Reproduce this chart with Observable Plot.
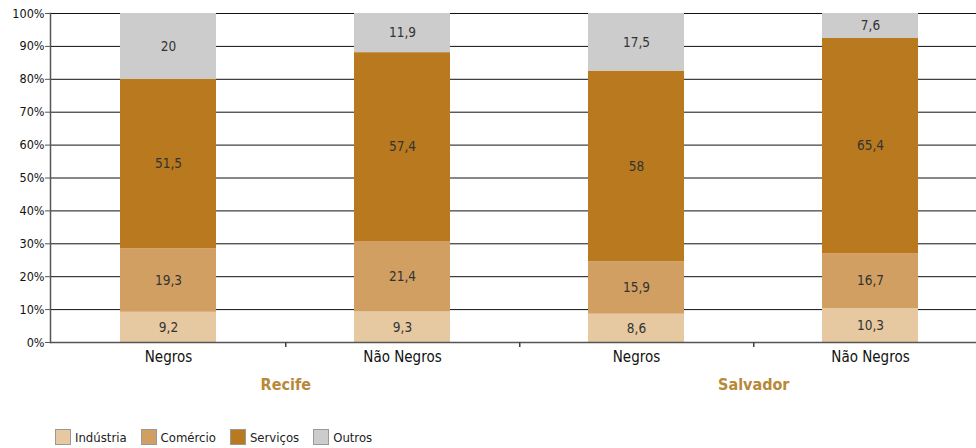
<!DOCTYPE html>
<html>
<head>
<meta charset="utf-8">
<script src="https://cdn.jsdelivr.net/npm/d3@7"></script>
<script src="https://cdn.jsdelivr.net/npm/@observablehq/plot@0.6"></script>
<style>
  body { margin: 0; background: #fff; font-family: "DejaVu Sans Condensed", "Liberation Sans Narrow", sans-serif; }
  #legend { display: flex; align-items: center; padding-left: 55px; padding-top: 9px; font-size: 13px; color: #222; }
  #legend .item { display: flex; align-items: center; margin-right: 14px; }
  #legend .sw { width: 16px; height: 16px; border: 1px solid #999; box-sizing: border-box; margin-right: 4px; }
</style>
</head>
<body>
<div id="chart"></div>
<div id="legend"></div>
<script>
// Ocupados por setor de atividade, segundo raça/cor (%)
const cities = ["Recife", "Recife", "Salvador", "Salvador"];
const groups = ["Negros", "Não Negros", "Negros", "Não Negros"];
const sectors = ["Indústria", "Comércio", "Serviços", "Outros"];
const industria = [9.2, 9.3, 8.6, 10.3];
const comercio = [19.3, 21.4, 15.9, 16.7];
const servicos = [51.5, 57.4, 58, 65.4];
const outros = [20, 11.9, 17.5, 7.6];
const yTicks = [0, 10, 20, 30, 40, 50, 60, 70, 80, 90, 100];
const colors = ["#e6c9a0", "#d29f62", "#b8791f", "#cccccc"];

const series = [industria, comercio, servicos, outros];
const keys = cities.map((c, i) => `${c}|${groups[i]}`);
const rows = [];
keys.forEach((k, i) => {
  sectors.forEach((s, j) => rows.push({key: k, city: cities[i], group: groups[i], sector: s, value: series[j][i]}));
});
const cityFirst = [...new Set(cities)].map(c => ({city: c, key: keys[cities.indexOf(c)]}));

const xOpts = {type: "band", domain: keys, range: [50, 988], paddingInner: 0.59, paddingOuter: 0.295};
const step = Plot.scale({x: xOpts}).step;
const fmt = v => String(v).replace(".", ",");
const font = '"DejaVu Sans Condensed", "Liberation Sans Narrow", sans-serif';

const chart = Plot.plot({
  width: 976,
  height: 420,
  marginTop: 13,
  marginBottom: 78,
  marginLeft: 50,
  marginRight: 0,
  style: {fontFamily: font, background: "#fff"},
  x: {...xOpts, axis: null},
  y: {domain: [0, 100], axis: null},
  color: {domain: sectors, range: colors},
  marks: [
    Plot.gridY(yTicks, {stroke: "#111", strokeOpacity: 1, strokeWidth: 1}),
    Plot.barY(rows, Plot.stackY({x: "key", y: "value", fill: "sector", order: sectors})),
    Plot.text(rows, Plot.stackY({x: "key", y: "value", z: "sector", order: sectors, text: d => fmt(d.value), fill: "#333", fontSize: 13.5})),
    Plot.ruleY([0], {stroke: "#555", strokeWidth: 1.5}),
    Plot.frame({anchor: "left", stroke: "#555", strokeWidth: 1.5}),
    Plot.ruleX(keys.slice(0, 3), {x: d => d, dx: step / 2, y1: 0, y2: -1.5, stroke: "#444", strokeWidth: 1.5, clip: false}),
    Plot.axisY(yTicks, {label: null, tickSize: 5, tickPadding: 1, tickFormat: d => d + "%", fontSize: 12.5, fill: "#111", stroke: "#555"}),
    Plot.axisX({label: null, tickSize: 0, tickPadding: 9, tickFormat: k => k.split("|")[1], fontSize: 15, fill: "#111"}),
    Plot.text(cityFirst, {x: "key", dx: step / 2, text: "city", frameAnchor: "bottom", dy: 47, fill: "#b8893a", fontSize: 16, fontWeight: 600})
  ]
});
document.getElementById("chart").append(chart);

const legend = d3.select("#legend");
sectors.forEach((s, i) => {
  const item = legend.append("div").attr("class", "item");
  item.append("div").attr("class", "sw").style("background", colors[i]);
  item.append("span").text(s);
});
</script>
</body>
</html>
